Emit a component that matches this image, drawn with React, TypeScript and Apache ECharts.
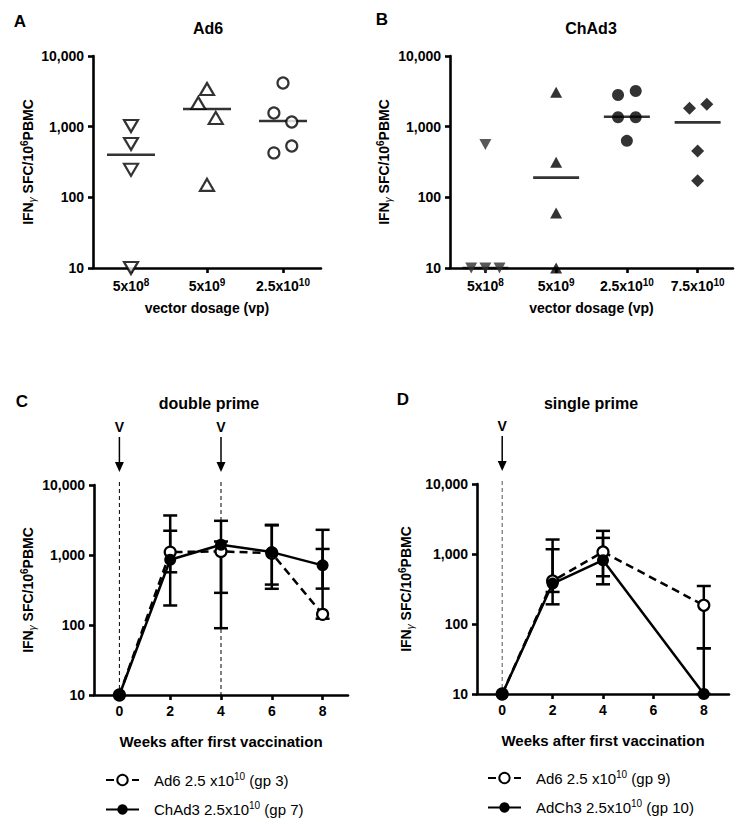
import React, { useEffect, useRef } from "react";
import * as echarts from "echarts";

// ---------- Panel A (Ad6) ----------
const catsA = ["5x10^8", "5x10^9", "2.5x10^10"];
const ad6Dose1 = [1020, 570, 245, 10];
const ad6Dose2 = [3410, 2160, 1330, 150];
const ad6Dose3 = [4150, 1560, 1165, 425, 533];
const ad6Jitter1 = [0, 0, 0, 0];
const ad6Jitter2 = [0, -0.115, 0.115, 0];
const ad6Jitter3 = [0, -0.12, 0.115, -0.12, 0.115];
const ad6Medians = [400, 1780, 1200];

// ---------- Panel B (ChAd3) ----------
const catsB = ["5x10^8", "5x10^9", "2.5x10^10", "7.5x10^10"];
const chDose1 = [560, 10, 10, 10];
const chDose2 = [3060, 313, 60, 10];
const chDose3 = [2800, 3200, 1360, 1360, 630];
const chDose4 = [1820, 2080, 453, 171];
const chJitter1 = [0, -0.2, 0, 0.2];
const chJitter2 = [0, 0, 0, 0];
const chJitter3 = [-0.125, 0.125, -0.125, 0.125, 0];
const chJitter4 = [-0.115, 0.13, 0, 0];
const chMedians = [10, 190, 1380, 1150];

// ---------- Panel C (double prime) ----------
const weeksC = [0, 2, 4, 6, 8];
const cAd6Mean = [10, 1100, 1125, 1060, 142];
const cChMean = [10, 857, 1400, 1100, 711];
const errWeeksC = [2, 4, 6, 8];
const cAd6Low = [566, 288, 378, 123];
const cAd6High = [2220, 1560, 2650, 1220];
const cChLow = [190, 90, 329, 331];
const cChHigh = [3670, 3080, 2700, 2290];
const vaccWeeksC = [0, 4];

// ---------- Panel D (single prime) ----------
const weeksD = [0, 2, 4, 8];
const dAd6Mean = [10, 412, 1070, 185];
const dChMean = [10, 378, 815, 10];
const errWeeksD = [2, 4, 8];
const dAd6Low = [287, 481, 45];
const dAd6High = [1170, 1700, 349];
const dChLow = [191, 369, 10];
const dChHigh = [1610, 2140, 45];
const vaccWeeksD = [0];

const weekTicks = [0, 2, 4, 6, 8];
const yTicks = [10, 100, 1000, 10000];

const nameCAd6 = "Ad6 2.5 x10^10 (gp 3)";
const nameCCh = "ChAd3 2.5x10^10 (gp 7)";
const nameDAd6 = "Ad6 2.5 x10^10 (gp 9)";
const nameDCh = "AdCh3 2.5x10^10 (gp 10)";

const FONT = "'Liberation Sans', Arial, Helvetica, sans-serif";
const NARROW = "'Liberation Sans Narrow', 'Arial Narrow', 'Liberation Sans', sans-serif";

const supFmt = (s: string) => {
  const i = s.indexOf("^");
  if (i < 0) return `{b|${s}}`;
  const m = s.slice(i + 1).match(/^(\d+)(.*)$/);
  const exp = m ? m[1] : "";
  const rest = m ? m[2] : "";
  return `{b|${s.slice(0, i)}}{s|${exp}}` + (rest ? `{b|${rest}}` : "");
};

const boldRich = {
  b: { fontSize: 14, fontWeight: "bold", fontFamily: FONT, color: "#000", lineHeight: 18 },
  s: { fontSize: 10, fontWeight: "bold", fontFamily: FONT, color: "#000", lineHeight: 10, verticalAlign: "top" },
};

const legendRich = {
  b: { fontSize: 15, fontFamily: NARROW, color: "#000", lineHeight: 18 },
  s: { fontSize: 10, fontFamily: NARROW, color: "#000", lineHeight: 10, verticalAlign: "top" },
};

const yNameRich = {
  a: { fontSize: 14, fontWeight: "bold", fontFamily: FONT, color: "#000", lineHeight: 18 },
  g: { fontSize: 10, fontStyle: "italic", fontFamily: FONT, color: "#000", lineHeight: 12, verticalAlign: "bottom" },
  s: { fontSize: 10, fontWeight: "bold", fontFamily: FONT, color: "#000", lineHeight: 10, verticalAlign: "top" },
};

const axisLine = { show: true, onZero: false, lineStyle: { color: "#000", width: 2.6 } };
const axisTick = { show: true, length: 5, lineStyle: { color: "#000", width: 2.6 } };

const makeY = (gridIndex: number, nameGap: number) => ({
  type: "log",
  logBase: 10,
  min: 10,
  max: 10000,
  gridIndex,
  axisLine,
  axisTick: { ...axisTick, customValues: yTicks },
  axisLabel: {
    color: "#000",
    fontSize: 14,
    fontWeight: "bold",
    fontFamily: FONT,
    margin: 9,
    customValues: yTicks,
    formatter: (v: number) => Number(v).toLocaleString("en-US"),
  },
  splitLine: { show: false },
  minorTick: { show: false },
  name: "{a|IFN}{g|γ}{a| SFC/10}{s|6}{a|PBMC}",
  nameLocation: "middle",
  nameGap,
  nameRotate: 90,
  nameTextStyle: { rich: yNameRich },
});

const makeCatX = (gridIndex: number, data: string[]) => ({
  type: "category",
  gridIndex,
  data,
  axisLine,
  axisTick: { ...axisTick, alignWithLabel: true },
  axisLabel: { margin: 9, formatter: supFmt, rich: boldRich, interval: 0 },
  name: "vector dosage (vp)",
  nameLocation: "middle",
  nameGap: 33,
  nameTextStyle: { fontSize: 14, fontWeight: "bold", fontFamily: FONT, color: "#000" },
});

const makeWeekX = (gridIndex: number) => ({
  type: "value",
  gridIndex,
  min: -1,
  max: 9,
  axisLine,
  axisTick: { ...axisTick, customValues: weekTicks },
  axisLabel: {
    color: "#000",
    fontSize: 14,
    fontWeight: "bold",
    fontFamily: FONT,
    margin: 9,
    customValues: weekTicks,
  },
  splitLine: { show: false },
  name: "Weeks after first vaccination",
  nameLocation: "middle",
  nameGap: 39,
  nameTextStyle: { fontSize: 15, fontWeight: "bold", fontFamily: FONT, color: "#000" },
});

const makeHiddenX = (gridIndex: number, n: number) => ({
  type: "value",
  gridIndex,
  min: -0.5,
  max: n - 0.5,
  show: false,
  axisLine: { show: false, onZero: false },
});

const openStyle = { color: "#fff", borderColor: "#000", borderWidth: 2.2 };
const filledStyle = { color: "#000", borderColor: "#000", borderWidth: 0 };

const dotSeries = (
  xAxisIndex: number,
  yAxisIndex: number,
  idx: number,
  values: number[],
  jitter: number[],
  symbol: string,
  symbolSize: any,
  itemStyle: any,
  symbolRotate = 0
) => ({
  type: "scatter",
  xAxisIndex,
  yAxisIndex,
  symbol,
  symbolSize,
  symbolRotate,
  itemStyle,
  z: 5,
  clip: false,
  data: values.map((v, j) => [idx + jitter[j], v]),
});

const medianSeries = (xAxisIndex: number, yAxisIndex: number, medians: number[], width: number) => ({
  type: "scatter",
  xAxisIndex,
  yAxisIndex,
  symbol: "rect",
  symbolSize: [width, 2.6],
  itemStyle: { color: "#000" },
  z: 3,
  clip: false,
  data: medians.map((m, i) => [i, m]),
});

const errorSeries = (xAxisIndex: number, yAxisIndex: number, weeks: number[], low: number[], high: number[]) => ({
  type: "custom",
  xAxisIndex,
  yAxisIndex,
  z: 2,
  clip: false,
  data: weeks.map((w, i) => [w, low[i], high[i]]),
  renderItem: (params: any, api: any) => {
    const x = api.value(0);
    const pl = api.coord([x, api.value(1)]);
    const ph = api.coord([x, api.value(2)]);
    const w = 7;
    const st = { stroke: "#000", lineWidth: 2.5 };
    return {
      type: "group",
      children: [
        { type: "line", shape: { x1: ph[0], y1: ph[1], x2: pl[0], y2: pl[1] }, style: st },
        { type: "line", shape: { x1: ph[0] - w, y1: ph[1], x2: ph[0] + w, y2: ph[1] }, style: st },
        { type: "line", shape: { x1: pl[0] - w, y1: pl[1], x2: pl[0] + w, y2: pl[1] }, style: st },
      ],
    };
  },
});

const arrowSeries = (xAxisIndex: number, yAxisIndex: number, weeks: number[], color: string) => ({
  type: "custom",
  xAxisIndex,
  yAxisIndex,
  z: 1,
  clip: false,
  silent: true,
  data: weeks.map((w) => [w, 10000, 10]),
  renderItem: (params: any, api: any) => {
    const x = api.value(0);
    const pt = api.coord([x, api.value(1)]);
    const pb = api.coord([x, api.value(2)]);
    const cx = pt[0];
    const ty = pt[1];
    return {
      type: "group",
      children: [
        {
          type: "line",
          shape: { x1: cx, y1: ty - 3, x2: cx, y2: pb[1] },
          style: { stroke: color, lineWidth: 1, lineDash: [4, 3] },
        },
        {
          type: "line",
          shape: { x1: cx, y1: ty - 48, x2: cx, y2: ty - 20 },
          style: { stroke: "#000", lineWidth: 1.5 },
        },
        {
          type: "polygon",
          shape: { points: [[cx - 4.5, ty - 23], [cx + 4.5, ty - 23], [cx, ty - 13]] },
          style: { fill: "#000" },
        },
        {
          type: "text",
          x: cx,
          y: ty - 58,
          style: {
            text: "V",
            fontSize: 14,
            fontWeight: "bold",
            fontFamily: FONT,
            fill: "#000",
            align: "center",
            verticalAlign: "middle",
          },
        },
      ],
    };
  },
});

const lineSeries = (
  name: string,
  xAxisIndex: number,
  yAxisIndex: number,
  weeks: number[],
  means: number[],
  open: boolean,
  z: number
) => ({
  type: "line",
  name,
  xAxisIndex,
  yAxisIndex,
  z,
  clip: false,
  symbol: "circle",
  symbolSize: open ? 11 : 12,
  showSymbol: true,
  itemStyle: open ? openStyle : filledStyle,
  lineStyle: { color: "#000", width: 2.5, type: open ? [8, 5] : "solid" },
  data: weeks.map((w, i) => [w, means[i]]),
});

const legendFmt = (name: string) => {
  const i = name.indexOf("^");
  const m = name.slice(i + 1).match(/^(\d+)(.*)$/);
  return `{b|${name.slice(0, i)}}{s|${m ? m[1] : ""}}{b|${m ? m[2] : ""}}`;
};

const makeLegend = (left: number, top: number, data: string[]) => ({
  data,
  left,
  top,
  height: 80,
  padding: 0,
  orient: "vertical",
  itemWidth: 33,
  itemHeight: 13,
  itemGap: 13,
  selectedMode: false,
  formatter: legendFmt,
  textStyle: { color: "#000", fontSize: 15, fontFamily: NARROW, padding: [0, 0, 0, 10], rich: legendRich },
});

const textEl = (text: string, x: number, y: number, size: number) => ({
  type: "text",
  x,
  y,
  style: {
    text,
    fontSize: size,
    fontWeight: "bold",
    fontFamily: FONT,
    fill: "#000",
    align: "center",
    verticalAlign: "middle",
  },
});

export default function App() {
  const ref = useRef<HTMLDivElement>(null);
  useEffect(() => {
    if (!ref.current) return;
    const chart = echarts.init(ref.current, undefined, { renderer: "svg" });
    const option: any = {
      animation: false,
      backgroundColor: "#fff",
      grid: [
        { left: 93, top: 56, width: 228, height: 212 },
        { left: 450, top: 56, width: 283, height: 212 },
        { left: 94, top: 485, width: 254, height: 210 },
        { left: 477, top: 484, width: 252, height: 210 },
      ],
      xAxis: [
        makeCatX(0, catsA),
        makeCatX(1, catsB),
        makeWeekX(2),
        makeWeekX(3),
        makeHiddenX(0, catsA.length),
        makeHiddenX(1, catsB.length),
      ],
      yAxis: [makeY(0, 50), makeY(1, 57), makeY(2, 57), makeY(3, 62)],
      legend: [makeLegend(105, 771, [nameCAd6, nameCCh]), makeLegend(487, 769, [nameDAd6, nameDCh])],
      graphic: [
        textEl("A", 20, 21, 17),
        textEl("B", 382, 19, 17),
        textEl("C", 22, 401, 17),
        textEl("D", 403, 399, 17),
        textEl("Ad6", 208, 28, 16),
        textEl("ChAd3", 591, 28, 16),
        textEl("double prime", 209, 403, 16),
        textEl("single prime", 591, 403, 16),
      ],
      series: [
        // Panel A
        medianSeries(0, 0, ad6Medians, 48),
        dotSeries(4, 0, 0, ad6Dose1, ad6Jitter1, "triangle", [14, 12], openStyle, 180),
        dotSeries(4, 0, 1, ad6Dose2, ad6Jitter2, "triangle", [14, 12], openStyle),
        dotSeries(4, 0, 2, ad6Dose3, ad6Jitter3, "circle", 11, openStyle),
        // Panel B
        medianSeries(1, 1, chMedians, 46),
        dotSeries(5, 1, 0, chDose1, chJitter1, "triangle", [12, 11], { color: "#2e2e2e" }, 180),
        dotSeries(5, 1, 1, chDose2, chJitter2, "triangle", [12, 11], filledStyle),
        dotSeries(5, 1, 2, chDose3, chJitter3, "circle", 12, filledStyle),
        dotSeries(5, 1, 3, chDose4, chJitter4, "diamond", [13, 13], filledStyle),
        // Panel C
        arrowSeries(2, 2, vaccWeeksC, "#000"),
        errorSeries(2, 2, errWeeksC, cAd6Low, cAd6High),
        errorSeries(2, 2, errWeeksC, cChLow, cChHigh),
        lineSeries(nameCAd6, 2, 2, weeksC, cAd6Mean, true, 4),
        lineSeries(nameCCh, 2, 2, weeksC, cChMean, false, 5),
        // Panel D
        arrowSeries(3, 3, vaccWeeksD, "#555"),
        errorSeries(3, 3, errWeeksD, dAd6Low, dAd6High),
        errorSeries(3, 3, errWeeksD, dChLow, dChHigh),
        lineSeries(nameDAd6, 3, 3, weeksD, dAd6Mean, true, 4),
        lineSeries(nameDCh, 3, 3, weeksD, dChMean, false, 5),
      ],
    };
    chart.setOption(option);
    return () => chart.dispose();
  }, []);
  return (
    <div
      ref={ref}
      style={{ position: "absolute", left: 0, top: 0, width: 742, height: 824, background: "#fff" }}
    />
  );
}
